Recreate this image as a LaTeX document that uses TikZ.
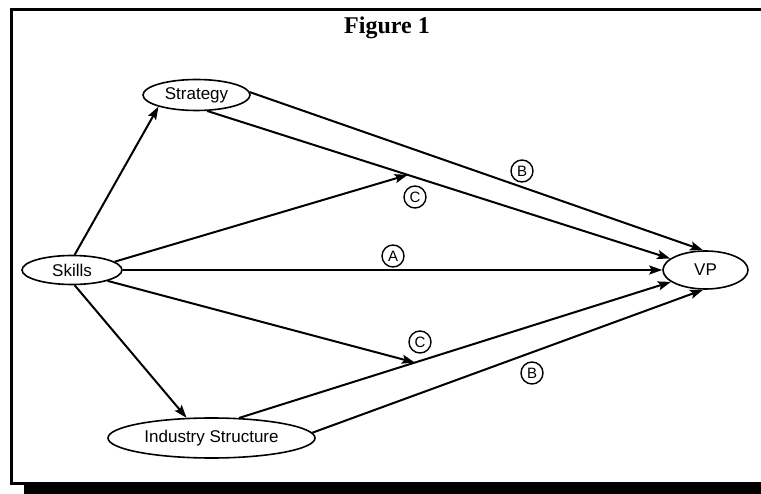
\documentclass[tikz,border=0pt]{standalone}
\usepackage{fontspec}
\setmainfont{Liberation Sans}
\newfontfamily\titlefont{Liberation Serif}
\usetikzlibrary{shapes.geometric,arrows.meta}
\begin{document}
\begin{tikzpicture}[x=1pt,y=-1pt,
  oval/.style={draw,ellipse,line width=1.6pt,inner sep=0pt,font=\fontsize{17}{19}\selectfont},
  arr/.style={line width=2pt,-{Stealth[length=13pt,width=9pt,inset=2.5pt]}},
  lab/.style={draw,circle,line width=1.4pt,minimum size=22pt,inner sep=0pt,font=\fontsize{15}{15}\selectfont},
  frame/.style={line width=3pt}]
\useasboundingbox (0,0) rectangle (761,494);
% frame and shadow
\draw[frame] (775,9.5) -- (11.5,9.5) -- (11.5,483.5) -- (30,483.5);
\fill (24,482) rectangle (775,494);
% title
\node[font=\titlefont\bfseries\fontsize{24}{26}\selectfont] (T) at (387,28) {Figure 1};
% nodes
\node[oval,minimum width=107pt,minimum height=31pt] (S) at (196.5,95) {Strategy};
\node[oval,minimum width=100pt,minimum height=29pt] (K) at (72,270) {Skills};
\node[oval,minimum width=85pt,minimum height=38pt] (VP) at (705.5,270) {VP};
\node[oval,minimum width=207pt,minimum height=40pt] (I) at (211.5,438) {Industry Structure};
% connectors
\draw[arr] (K.80) -- (S.197);
\draw[arr] (K.-80) -- (I.141);
\draw[arr] (K.east) -- (VP.west);
\draw[arr] (S.3) -- (VP.97);
\draw[arr] (S.-56) -- (VP.162);
\draw[arr] (I.36) -- (VP.199);
\draw[arr] (I.3) -- (VP.263);
\path (S.-56) -- (VP.162) coordinate[pos=0.433] (c1);
\draw[arr] (K.11) -- (c1);
\path (I.36) -- (VP.199) coordinate[pos=0.407] (c2);
\draw[arr] (K.-17) -- (c2);
% labels
\node[lab] (LA) at (393,256) {A};
\node[lab] (LB1) at (522,171) {B};
\node[lab] (LC1) at (415,197) {C};
\node[lab] (LC2) at (420,342) {C};
\node[lab] (LB2) at (532,373) {B};
\end{tikzpicture}
\end{document}
